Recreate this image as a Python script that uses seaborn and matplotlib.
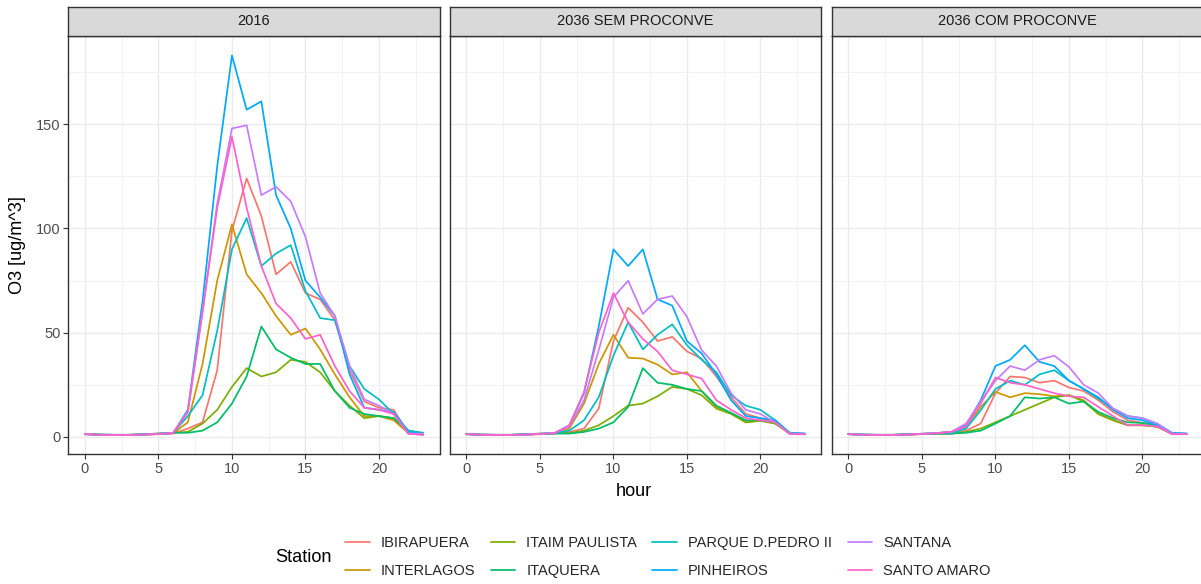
import numpy as np
import pandas as pd
import matplotlib
matplotlib.use("Agg")
import matplotlib.pyplot as plt
from matplotlib.lines import Line2D
import seaborn as sns

# ---------------- data ----------------
hours = list(range(24))
scenarios = ["2016", "2036 SEM PROCONVE", "2036 COM PROCONVE"]
stations = ["IBIRAPUERA", "INTERLAGOS", "ITAIM PAULISTA", "ITAQUERA",
            "PARQUE D.PEDRO II", "PINHEIROS", "SANTANA", "SANTO AMARO"]
colors = ["#F8766D", "#CD9600", "#7CAE00", "#00BE67",
          "#00BFC4", "#00A9FF", "#C77CFF", "#FF61CC"]

# 2016
ibirapuera_2016 = [1.3, 1.0, 0.9, 0.9, 1.1, 1.3, 1.6, 4, 7, 32, 99, 124, 106, 78, 84, 69, 66, 56, 32, 17, 14, 13, 1.6, 1.0]
interlagos_2016 = [1.3, 1.0, 0.9, 0.9, 1.1, 1.4, 1.8, 7, 35, 75, 102, 78, 69, 58, 49, 52, 42, 30, 19, 10, 10, 8, 1.8, 1.2]
itaim_2016 = [1.5, 1.1, 1.0, 1.0, 1.3, 1.6, 2.0, 2.4, 6.4, 13, 24, 33, 29, 31, 37, 36, 31, 22, 15, 9, 10, 9, 2.4, 1.5]
itaquera_2016 = [1.5, 1.1, 1.0, 1.0, 1.3, 1.6, 2.0, 2, 3, 7, 16, 29, 53, 42, 38, 35, 35, 22, 14, 11, 10, 9, 3, 1.6]
parque_2016 = [1.4, 1.1, 1.0, 1.0, 1.2, 1.5, 1.9, 10, 20, 51, 90, 105, 82, 88, 92, 70, 57, 56, 34, 23, 18, 11, 3, 2]
pinheiros_2016 = [1.3, 1.0, 0.9, 0.9, 1.1, 1.4, 1.8, 13, 65, 130, 183, 157, 161, 116, 100, 75, 67, 58, 30, 14, 13, 12, 2.4, 1.3]
santana_2016 = [1.4, 1.1, 1.0, 1.0, 1.2, 1.5, 1.9, 12, 60, 112, 148, 149.5, 116, 120, 113, 96, 69, 58, 34, 18, 15, 11, 1.6, 1.5]
santoamaro_2016 = [1.3, 1.0, 0.9, 0.9, 1.1, 1.4, 1.8, 12, 60, 110, 144, 110, 82, 64, 57, 47, 49, 34, 22, 14, 13, 11, 1.6, 1.0]

# 2036 SEM PROCONVE
ibirapuera_sem = [1.3, 1.0, 0.9, 0.9, 1.1, 1.3, 1.6, 2.4, 4, 13.6, 46, 62, 55, 46, 48, 41, 37.6, 29, 19, 11, 9, 7, 1.6, 1.3]
interlagos_sem = [1.3, 1.0, 0.9, 0.9, 1.1, 1.4, 1.8, 4, 16, 35, 49, 38, 37.6, 34.7, 30, 31, 22, 14.4, 11.5, 7, 8, 6.4, 1.6, 1.3]
itaim_sem = [1.5, 1.1, 1.0, 1.0, 1.3, 1.6, 1.8, 1.8, 3, 5.6, 10, 15, 16, 19.5, 24, 23, 20, 13.6, 11, 7, 7.7, 6.4, 1.6, 1.3]
itaquera_sem = [1.5, 1.1, 1.0, 1.0, 1.3, 1.5, 1.6, 1.6, 2.4, 4, 7, 14.4, 33, 26, 25, 23, 22, 15, 11.5, 8, 8, 7, 1.8, 1.5]
parque_sem = [1.4, 1.1, 1.0, 1.0, 1.2, 1.5, 1.9, 3, 8, 19, 39, 55, 42, 49, 54, 44, 37, 31, 20, 15, 13, 8, 2, 1.6]
pinheiros_sem = [1.3, 1.0, 0.9, 0.9, 1.1, 1.4, 1.8, 5.6, 21, 53, 90, 82, 90, 66, 63, 46, 40, 30, 17.6, 10, 9, 8, 1.6, 1.6]
santana_sem = [1.4, 1.1, 1.0, 1.0, 1.2, 1.5, 1.9, 5, 17.6, 41.6, 67, 75, 59, 66, 67.6, 57.6, 41.6, 34, 21, 13, 11, 7, 1.6, 1.5]
santoamaro_sem = [1.3, 1.0, 0.9, 0.9, 1.1, 1.4, 1.8, 5.6, 21.6, 50, 69, 55, 47, 41, 32, 30, 28, 17.6, 13, 9, 8, 7, 1.3, 1.3]

# 2036 COM PROCONVE
ibirapuera_com = [1.3, 1.0, 0.9, 0.9, 1.1, 1.3, 1.5, 1.6, 3, 6.4, 21, 29, 28.5, 26, 27, 23.7, 22, 17.6, 12, 8, 6.7, 5.6, 1.6, 1.3]
interlagos_com = [1.3, 1.0, 0.9, 0.9, 1.1, 1.4, 1.8, 2.4, 4.8, 14.4, 21.6, 19, 21, 20.5, 19.5, 20, 17.6, 11, 8, 5.6, 5.6, 5, 1.6, 1.3]
itaim_com = [1.5, 1.1, 1.0, 1.0, 1.3, 1.5, 1.6, 1.6, 2.4, 4, 7, 10, 13, 16, 19, 20, 17, 11, 8, 5.6, 5.6, 4.8, 1.6, 1.3]
itaquera_com = [1.5, 1.1, 1.0, 1.0, 1.3, 1.5, 1.6, 1.6, 2, 3, 6.4, 10, 19, 18.4, 19, 16, 17, 12, 9, 7, 6.7, 5.6, 1.8, 1.5]
parque_com = [1.4, 1.1, 1.0, 1.0, 1.2, 1.5, 1.7, 1.8, 4, 12.8, 23, 27, 25, 30, 32, 27, 23, 18.4, 13.6, 10, 9, 6.4, 2, 1.6]
pinheiros_com = [1.3, 1.0, 0.9, 0.9, 1.1, 1.4, 1.8, 2.4, 5.6, 17.6, 34, 37, 44, 36, 34, 27, 23, 19, 13, 9, 8, 5.6, 1.6, 1.6]
santana_com = [1.4, 1.1, 1.0, 1.0, 1.2, 1.5, 1.9, 2.4, 6.4, 17, 27, 34, 32, 37, 39, 33.6, 25, 21, 13.6, 10, 9, 6.4, 1.6, 1.5]
santoamaro_com = [1.3, 1.0, 0.9, 0.9, 1.1, 1.4, 1.8, 2.4, 5, 16, 28.5, 26, 25, 23, 21, 19.5, 19, 14.4, 10, 5.6, 5.6, 5, 1.3, 1.3]

series = {
    "2016": [ibirapuera_2016, interlagos_2016, itaim_2016, itaquera_2016,
             parque_2016, pinheiros_2016, santana_2016, santoamaro_2016],
    "2036 SEM PROCONVE": [ibirapuera_sem, interlagos_sem, itaim_sem, itaquera_sem,
                          parque_sem, pinheiros_sem, santana_sem, santoamaro_sem],
    "2036 COM PROCONVE": [ibirapuera_com, interlagos_com, itaim_com, itaquera_com,
                          parque_com, pinheiros_com, santana_com, santoamaro_com],
}

rows = []
for scen in scenarios:
    for st, vals in zip(stations, series[scen]):
        for h, v in zip(hours, vals):
            rows.append({"scenario": scen, "Station": st, "hour": h, "O3": v})
df = pd.DataFrame(rows)

# ---------------- style ----------------
sns.set_theme(style="white")
plt.rcParams["font.family"] = ["Liberation Sans", "DejaVu Sans"]

W, H = 1201, 584
fig = plt.figure(figsize=(W / 100, H / 100), dpi=100)
fig.patch.set_facecolor("white")

palette = dict(zip(stations, colors))
panel_left = [68, 449.5, 831.5]
panel_w = 372
panel_top, panel_bot = 35.7, 454
strip_top = 7

small = 10.5
big = 13.1
dark = "#333333"

for i, scen in enumerate(scenarios):
    l = panel_left[i]
    ax = fig.add_axes([l / W, (H - panel_bot) / H, panel_w / W, (panel_bot - panel_top) / H])
    sub = df[df["scenario"] == scen]
    sns.lineplot(data=sub, x="hour", y="O3", hue="Station", hue_order=stations,
                 palette=palette, ax=ax, legend=False, linewidth=1.25)
    ax.set_xlim(-1.15, 24.15)
    ax.set_ylim(-8.2, 192.5)
    ax.set_xticks([0, 5, 10, 15, 20])
    ax.set_xticks([2.5, 7.5, 12.5, 17.5, 22.5], minor=True)
    ax.set_yticks([0, 50, 100, 150])
    ax.set_yticks([25, 75, 125, 175], minor=True)
    ax.grid(which="major", color="#EBEBEB", linewidth=1.0)
    ax.grid(which="minor", color="#F2F2F2", linewidth=0.7)
    ax.set_axisbelow(True)
    ax.tick_params(which="minor", length=0)
    ax.tick_params(which="major", length=3.5, width=0.8, color=dark,
                   labelsize=small, labelcolor="#4D4D4D", pad=2,
                   bottom=True, left=(i == 0))
    if i != 0:
        ax.set_yticklabels([])
    for sp in ax.spines.values():
        sp.set_color(dark)
        sp.set_linewidth(1.0)
    ax.set_xlabel("")
    ax.set_ylabel("")

    sax = fig.add_axes([l / W, (H - panel_top) / H, panel_w / W, (panel_top - strip_top) / H])
    sax.set_facecolor("#D9D9D9")
    sax.set_xticks([])
    sax.set_yticks([])
    for sp in sax.spines.values():
        sp.set_color(dark)
        sp.set_linewidth(1.0)
    sax.text(0.5, 0.5, scen, ha="center", va="center", fontsize=small,
             color="#1A1A1A", transform=sax.transAxes)

fig.text(634 / W, 1 - 491 / H, "hour", ha="center", va="center", fontsize=big, color="black")
fig.text(18 / W, 1 - 245 / H, "O3 [ug/m^3]", ha="center", va="center",
         rotation=90, fontsize=big, color="black")

fig.text(275 / W, 1 - 557 / H, "Station", ha="left", va="center", fontsize=big, color="black")
handles = [Line2D([0], [0], color=c, lw=1.25) for c in colors]
fig.legend(handles, stations, ncol=4, loc="center left",
           bbox_to_anchor=(345 / W, 1 - 557 / H), frameon=False,
           fontsize=small, handlelength=1.7, handletextpad=0.75,
           columnspacing=1.05, labelspacing=1.0, borderpad=0, borderaxespad=0)

fig.savefig("out.png", dpi=100, facecolor="white")
